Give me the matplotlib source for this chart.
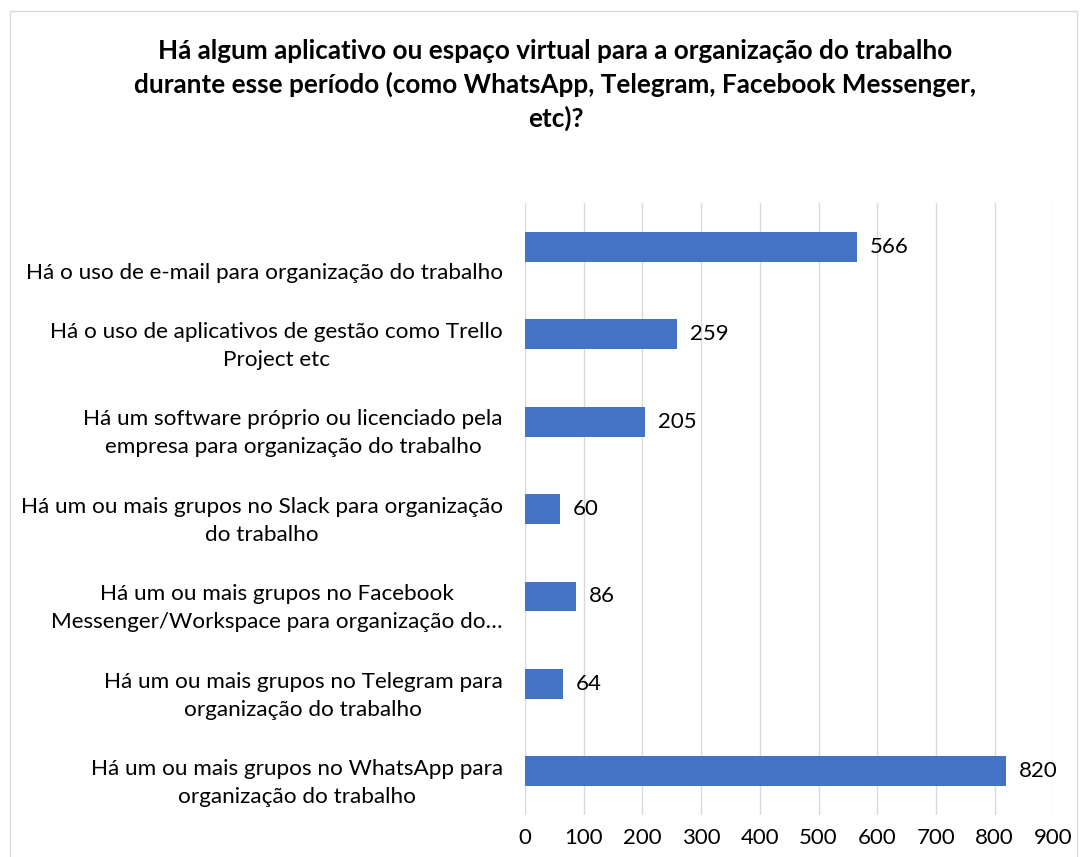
import matplotlib.pyplot as plt
import numpy as np
from matplotlib.patches import Rectangle

plt.rcParams['font.family'] = ['Lato', 'DejaVu Sans']

# dados do gráfico (de cima para baixo)
categorias = [
    "Há o uso de e-mail para organização do trabalho",
    "Há o uso de aplicativos de gestão como Trello\nProject etc",
    "Há um software próprio ou licenciado pela\nempresa para organização do trabalho",
    "Há um ou mais grupos no Slack para organização\ndo trabalho",
    "Há um ou mais grupos no Facebook\nMessenger/Workspace para organização do…",
    "Há um ou mais grupos no Telegram para\norganização do trabalho",
    "Há um ou mais grupos no WhatsApp para\norganização do trabalho",
]
valores = [566, 259, 205, 60, 86, 64, 820]
ticks_x = [0, 100, 200, 300, 400, 500, 600, 700, 800, 900]

titulo = ("Há algum aplicativo ou espaço virtual para a organização do trabalho\n"
          "durante esse período (como WhatsApp, Telegram, Facebook Messenger,\n"
          "etc)?")

cor_barra = "#4472C4"
cor_grade = "#D9D9D9"
cor_texto = "#000000"

fig = plt.figure(figsize=(10.87, 8.57), dpi=100)
fig.patch.set_facecolor("white")

# moldura do gráfico
fig.patches.append(Rectangle((0.009, -0.01), 0.982, 0.997, transform=fig.transFigure,
                             fill=False, edgecolor=cor_grade, linewidth=1))

ax = fig.add_axes([0.483, 0.049, 0.486, 0.714])

y = np.arange(len(categorias))
ax.barh(y, valores, height=0.34, color=cor_barra, zorder=3)
ax.set_ylim(len(categorias) - 0.5, -0.5)
ax.set_xlim(0, 900)
ax.set_xticks(ticks_x)
ax.set_xticklabels([str(t) for t in ticks_x], fontsize=16, color=cor_texto)
ax.tick_params(axis='x', length=0, pad=9)
ax.set_yticks([])
ax.grid(axis='x', color=cor_grade, linewidth=1, zorder=0)
for s in ax.spines.values():
    s.set_visible(False)

# rótulos das categorias
for i, cat in enumerate(categorias):
    ax.text(-0.042, i + 0.41, cat, transform=ax.get_yaxis_transform(),
            ha='right', va='bottom', multialignment='center',
            fontsize=16.2, linespacing=1.5, color=cor_texto)

# rótulos de valor
for i, v in enumerate(valores):
    ax.text(v + 22, i, str(v), ha='left', va='center', fontsize=16, color=cor_texto)

fig.text(0.511, 0.954, titulo, ha='center', va='top', fontsize=18.8,
         fontweight='bold', linespacing=1.4, color=cor_texto)

fig.savefig("out.png", dpi=100)
